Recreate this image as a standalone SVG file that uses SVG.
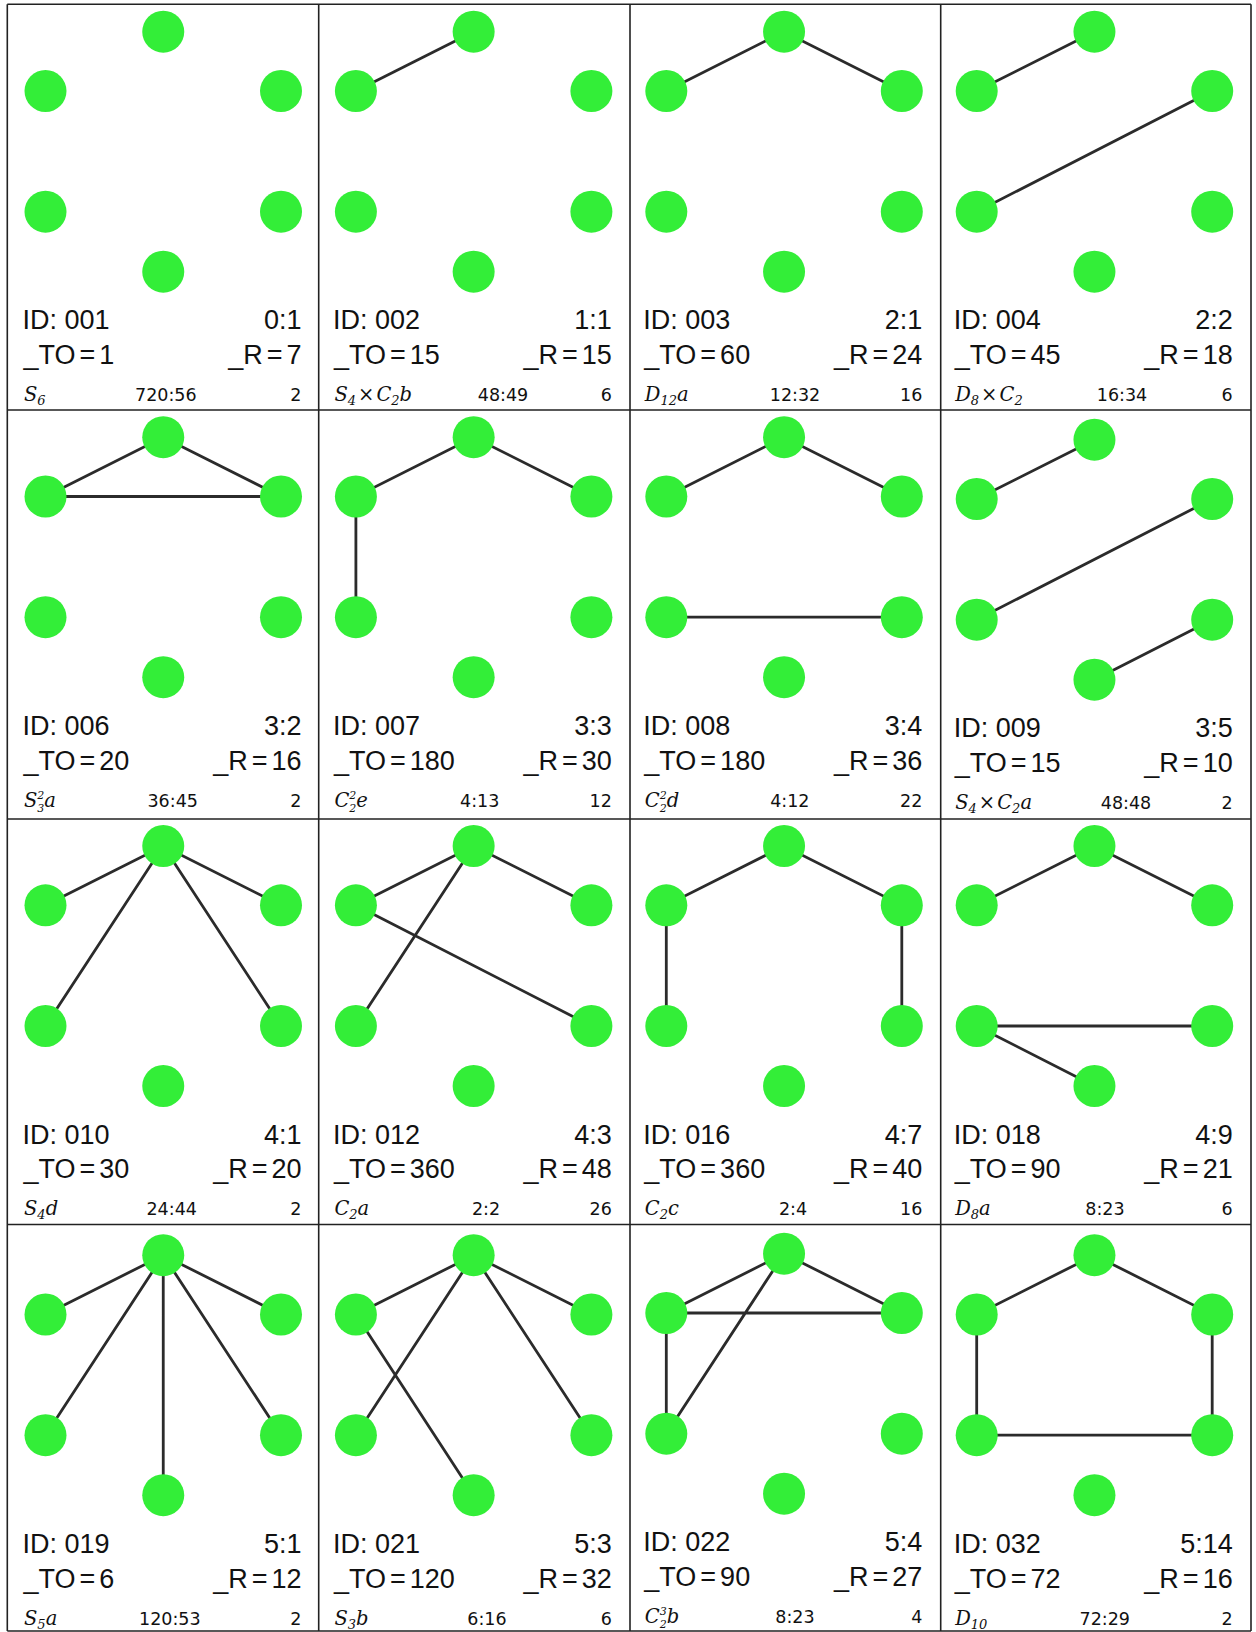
<svg xmlns="http://www.w3.org/2000/svg" xmlns:xlink="http://www.w3.org/1999/xlink" width="1256" height="1632" viewBox="0 0 1256 1632">
<style>
.big{font-family:"Liberation Sans",Arial,sans-serif;font-size:27px;fill:#111}
.end{text-anchor:end}
.num{font-family:"DejaVu Sans",sans-serif;font-size:17.5px;fill:#111}
.mid{text-anchor:middle}
.lab{font-family:"DejaVu Serif",serif;font-style:italic;font-size:19.5px;fill:#111}
.sb{font-size:13px}
.ss{font-size:11px}
.up{font-style:normal}
.e{stroke:#2b2b2b;stroke-width:2.8;fill:none}
.n{fill:#33ee38}
.grid{stroke:#222;stroke-width:1.6;fill:none}
</style>
<defs>
<g id="hex">
<circle class="n" cx="163.25" cy="31.7" r="21"/>
<circle class="n" cx="45.5" cy="91" r="21"/>
<circle class="n" cx="281" cy="91" r="21"/>
<circle class="n" cx="45.5" cy="211.7" r="21"/>
<circle class="n" cx="281" cy="211.7" r="21"/>
<circle class="n" cx="163.25" cy="271.7" r="21"/>
</g>
</defs>
<rect width="1256" height="1632" fill="#fff"/>
<g id="grid" class="grid">
<path d="M7.3 4.3H1251M7.3 410H1251M7.3 819H1251M7.3 1224.5H1251M7.3 1631H1251"/>
<path d="M7.3 4.3V1631M318.7 4.3V1631M630 4.3V1631M940.7 4.3V1631M1251 4.3V1631"/>
</g>
<g id="connectors" class="e">
<g transform="translate(310.4,0)"><path d="M45.5 91L163.25 31.7"/></g>
<g transform="translate(620.8,0)"><path d="M45.5 91L163.25 31.7L281 91"/></g>
<g transform="translate(931.2,0)"><path d="M45.5 91L163.25 31.7M45.5 211.7L281 91"/></g>
<g transform="translate(0,405.5)"><path d="M45.5 91L163.25 31.7L281 91M45.5 91H281"/></g>
<g transform="translate(310.4,405.5)"><path d="M45.5 211.7V91L163.25 31.7L281 91"/></g>
<g transform="translate(620.8,405.5)"><path d="M45.5 91L163.25 31.7L281 91M45.5 211.7H281"/></g>
<g transform="translate(931.2,408)"><path d="M45.5 91L163.25 31.7M45.5 211.7L281 91M163.25 271.7L281 211.7"/></g>
<g transform="translate(0,814.3)"><path d="M45.5 91L163.25 31.7L281 91M45.5 211.7L163.25 31.7L281 211.7"/></g>
<g transform="translate(310.4,814.3)"><path d="M45.5 91L163.25 31.7L281 91M45.5 211.7L163.25 31.7M45.5 91L281 211.7"/></g>
<g transform="translate(620.8,814.3)"><path d="M45.5 211.7V91L163.25 31.7L281 91V211.7"/></g>
<g transform="translate(931.2,814.3)"><path d="M45.5 91L163.25 31.7L281 91M45.5 211.7H281M45.5 211.7L163.25 271.7"/></g>
<g transform="translate(0,1223.5)"><path d="M45.5 91L163.25 31.7L281 91M45.5 211.7L163.25 31.7L281 211.7M163.25 31.7V271.7"/></g>
<g transform="translate(310.4,1223.5)"><path d="M45.5 91L163.25 31.7L281 91M45.5 211.7L163.25 31.7L281 211.7M45.5 91L163.25 271.7"/></g>
<g transform="translate(620.8,1222)"><path d="M45.5 91L163.25 31.7L281 91M45.5 91H281M45.5 91V211.7L163.25 31.7"/></g>
<g transform="translate(931.2,1223.5)"><path d="M45.5 211.7V91L163.25 31.7L281 91V211.7M45.5 211.7H281"/></g>
</g>

<g id="cell-001">
<use xlink:href="#hex" href="#hex"/>
<text class="big" x="22.5" y="329.3">ID: 001</text><text class="big end" x="301.5" y="329.3">0:1</text>
<text class="big" x="23.5" y="364">_TO<tspan dx="4">=</tspan><tspan dx="4">1</tspan></text><text class="big end" x="301.5" y="364">_R<tspan dx="4">=</tspan><tspan dx="4">7</tspan></text>
<text class="lab" x="24" y="401">S<tspan class="sb" dy="4">6</tspan></text>
<text class="num mid" x="165.8" y="401">720:56</text><text class="num end" x="301.5" y="401">2</text>
</g>
<g id="cell-002" transform="translate(310.4,0)">
<use xlink:href="#hex" href="#hex"/>
<text class="big" x="22.5" y="329.3">ID: 002</text><text class="big end" x="301.5" y="329.3">1:1</text>
<text class="big" x="23.5" y="364">_TO<tspan dx="4">=</tspan><tspan dx="4">15</tspan></text><text class="big end" x="301.5" y="364">_R<tspan dx="4">=</tspan><tspan dx="4">15</tspan></text>
<text class="lab" x="24" y="401">S<tspan class="sb" dy="4">4</tspan><tspan class="up" dx="2" dy="-4">×</tspan><tspan dx="2">C</tspan><tspan class="sb" dy="4">2</tspan><tspan dy="-4">b</tspan></text>
<text class="num mid" x="192.6" y="401">48:49</text><text class="num end" x="301.5" y="401">6</text>
</g>
<g id="cell-003" transform="translate(620.8,0)">
<use xlink:href="#hex" href="#hex"/>
<text class="big" x="22.5" y="329.3">ID: 003</text><text class="big end" x="301.5" y="329.3">2:1</text>
<text class="big" x="23.5" y="364">_TO<tspan dx="4">=</tspan><tspan dx="4">60</tspan></text><text class="big end" x="301.5" y="364">_R<tspan dx="4">=</tspan><tspan dx="4">24</tspan></text>
<text class="lab" x="24" y="401">D<tspan class="sb" dy="4">12</tspan><tspan dy="-4">a</tspan></text>
<text class="num mid" x="174.2" y="401">12:32</text><text class="num end" x="301.5" y="401">16</text>
</g>
<g id="cell-004" transform="translate(931.2,0)">
<use xlink:href="#hex" href="#hex"/>
<text class="big" x="22.5" y="329.3">ID: 004</text><text class="big end" x="301.5" y="329.3">2:2</text>
<text class="big" x="23.5" y="364">_TO<tspan dx="4">=</tspan><tspan dx="4">45</tspan></text><text class="big end" x="301.5" y="364">_R<tspan dx="4">=</tspan><tspan dx="4">18</tspan></text>
<text class="lab" x="24" y="401">D<tspan class="sb" dy="4">8</tspan><tspan class="up" dx="2" dy="-4">×</tspan><tspan dx="2">C</tspan><tspan class="sb" dy="4">2</tspan></text>
<text class="num mid" x="190.8" y="401">16:34</text><text class="num end" x="301.5" y="401">6</text>
</g>

<g id="cell-006" transform="translate(0,405.5)">
<use xlink:href="#hex" href="#hex"/>
<text class="big" x="22.5" y="329.3">ID: 006</text><text class="big end" x="301.5" y="329.3">3:2</text>
<text class="big" x="23.5" y="364">_TO<tspan dx="4">=</tspan><tspan dx="4">20</tspan></text><text class="big end" x="301.5" y="364">_R<tspan dx="4">=</tspan><tspan dx="4">16</tspan></text>
<text class="lab" x="24" y="401">S<tspan class="ss" dy="-8">2</tspan><tspan class="ss" dx="-7" dy="13">3</tspan><tspan dy="-5">a</tspan></text>
<text class="num mid" x="172.7" y="401">36:45</text><text class="num end" x="301.5" y="401">2</text>
</g>
<g id="cell-007" transform="translate(310.4,405.5)">
<use xlink:href="#hex" href="#hex"/>
<text class="big" x="22.5" y="329.3">ID: 007</text><text class="big end" x="301.5" y="329.3">3:3</text>
<text class="big" x="23.5" y="364">_TO<tspan dx="4">=</tspan><tspan dx="4">180</tspan></text><text class="big end" x="301.5" y="364">_R<tspan dx="4">=</tspan><tspan dx="4">30</tspan></text>
<text class="lab" x="24" y="401">C<tspan class="ss" dy="-8">2</tspan><tspan class="ss" dx="-7" dy="13">2</tspan><tspan dy="-5">e</tspan></text>
<text class="num mid" x="169.3" y="401">4:13</text><text class="num end" x="301.5" y="401">12</text>
</g>
<g id="cell-008" transform="translate(620.8,405.5)">
<use xlink:href="#hex" href="#hex"/>
<text class="big" x="22.5" y="329.3">ID: 008</text><text class="big end" x="301.5" y="329.3">3:4</text>
<text class="big" x="23.5" y="364">_TO<tspan dx="4">=</tspan><tspan dx="4">180</tspan></text><text class="big end" x="301.5" y="364">_R<tspan dx="4">=</tspan><tspan dx="4">36</tspan></text>
<text class="lab" x="24" y="401">C<tspan class="ss" dy="-8">2</tspan><tspan class="ss" dx="-7" dy="13">2</tspan><tspan dy="-5">d</tspan></text>
<text class="num mid" x="169" y="401">4:12</text><text class="num end" x="301.5" y="401">22</text>
</g>
<g id="cell-009" transform="translate(931.2,408)">
<use xlink:href="#hex" href="#hex"/>
<text class="big" x="22.5" y="329.3">ID: 009</text><text class="big end" x="301.5" y="329.3">3:5</text>
<text class="big" x="23.5" y="364">_TO<tspan dx="4">=</tspan><tspan dx="4">15</tspan></text><text class="big end" x="301.5" y="364">_R<tspan dx="4">=</tspan><tspan dx="4">10</tspan></text>
<text class="lab" x="24" y="401">S<tspan class="sb" dy="4">4</tspan><tspan class="up" dx="2" dy="-4">×</tspan><tspan dx="2">C</tspan><tspan class="sb" dy="4">2</tspan><tspan dy="-4">a</tspan></text>
<text class="num mid" x="194.8" y="401">48:48</text><text class="num end" x="301.5" y="401">2</text>
</g>

<g id="cell-010" transform="translate(0,814.3)">
<use xlink:href="#hex" href="#hex"/>
<text class="big" x="22.5" y="329.3">ID: 010</text><text class="big end" x="301.5" y="329.3">4:1</text>
<text class="big" x="23.5" y="364">_TO<tspan dx="4">=</tspan><tspan dx="4">30</tspan></text><text class="big end" x="301.5" y="364">_R<tspan dx="4">=</tspan><tspan dx="4">20</tspan></text>
<text class="lab" x="24" y="401">S<tspan class="sb" dy="4">4</tspan><tspan dy="-4">d</tspan></text>
<text class="num mid" x="171.7" y="401">24:44</text><text class="num end" x="301.5" y="401">2</text>
</g>
<g id="cell-012" transform="translate(310.4,814.3)">
<use xlink:href="#hex" href="#hex"/>
<text class="big" x="22.5" y="329.3">ID: 012</text><text class="big end" x="301.5" y="329.3">4:3</text>
<text class="big" x="23.5" y="364">_TO<tspan dx="4">=</tspan><tspan dx="4">360</tspan></text><text class="big end" x="301.5" y="364">_R<tspan dx="4">=</tspan><tspan dx="4">48</tspan></text>
<text class="lab" x="24" y="401">C<tspan class="sb" dy="4">2</tspan><tspan dy="-4">a</tspan></text>
<text class="num mid" x="175.6" y="401">2:2</text><text class="num end" x="301.5" y="401">26</text>
</g>
<g id="cell-016" transform="translate(620.8,814.3)">
<use xlink:href="#hex" href="#hex"/>
<text class="big" x="22.5" y="329.3">ID: 016</text><text class="big end" x="301.5" y="329.3">4:7</text>
<text class="big" x="23.5" y="364">_TO<tspan dx="4">=</tspan><tspan dx="4">360</tspan></text><text class="big end" x="301.5" y="364">_R<tspan dx="4">=</tspan><tspan dx="4">40</tspan></text>
<text class="lab" x="24" y="401">C<tspan class="sb" dy="4">2</tspan><tspan dy="-4">c</tspan></text>
<text class="num mid" x="172.2" y="401">2:4</text><text class="num end" x="301.5" y="401">16</text>
</g>
<g id="cell-018" transform="translate(931.2,814.3)">
<use xlink:href="#hex" href="#hex"/>
<text class="big" x="22.5" y="329.3">ID: 018</text><text class="big end" x="301.5" y="329.3">4:9</text>
<text class="big" x="23.5" y="364">_TO<tspan dx="4">=</tspan><tspan dx="4">90</tspan></text><text class="big end" x="301.5" y="364">_R<tspan dx="4">=</tspan><tspan dx="4">21</tspan></text>
<text class="lab" x="24" y="401">D<tspan class="sb" dy="4">8</tspan><tspan dy="-4">a</tspan></text>
<text class="num mid" x="173.8" y="401">8:23</text><text class="num end" x="301.5" y="401">6</text>
</g>

<g id="cell-019" transform="translate(0,1223.5)">
<use xlink:href="#hex" href="#hex"/>
<text class="big" x="22.5" y="329.3">ID: 019</text><text class="big end" x="301.5" y="329.3">5:1</text>
<text class="big" x="23.5" y="364">_TO<tspan dx="4">=</tspan><tspan dx="4">6</tspan></text><text class="big end" x="301.5" y="364">_R<tspan dx="4">=</tspan><tspan dx="4">12</tspan></text>
<text class="lab" x="24" y="401">S<tspan class="sb" dy="4">5</tspan><tspan dy="-4">a</tspan></text>
<text class="num mid" x="169.8" y="401">120:53</text><text class="num end" x="301.5" y="401">2</text>
</g>
<g id="cell-021" transform="translate(310.4,1223.5)">
<use xlink:href="#hex" href="#hex"/>
<text class="big" x="22.5" y="329.3">ID: 021</text><text class="big end" x="301.5" y="329.3">5:3</text>
<text class="big" x="23.5" y="364">_TO<tspan dx="4">=</tspan><tspan dx="4">120</tspan></text><text class="big end" x="301.5" y="364">_R<tspan dx="4">=</tspan><tspan dx="4">32</tspan></text>
<text class="lab" x="24" y="401">S<tspan class="sb" dy="4">3</tspan><tspan dy="-4">b</tspan></text>
<text class="num mid" x="176.5" y="401">6:16</text><text class="num end" x="301.5" y="401">6</text>
</g>
<g id="cell-022" transform="translate(620.8,1222)">
<use xlink:href="#hex" href="#hex"/>
<text class="big" x="22.5" y="329.3">ID: 022</text><text class="big end" x="301.5" y="329.3">5:4</text>
<text class="big" x="23.5" y="364">_TO<tspan dx="4">=</tspan><tspan dx="4">90</tspan></text><text class="big end" x="301.5" y="364">_R<tspan dx="4">=</tspan><tspan dx="4">27</tspan></text>
<text class="lab" x="24" y="401">C<tspan class="ss" dy="-8">3</tspan><tspan class="ss" dx="-7" dy="13">2</tspan><tspan dy="-5">b</tspan></text>
<text class="num mid" x="174.2" y="401">8:23</text><text class="num end" x="301.5" y="401">4</text>
</g>
<g id="cell-032" transform="translate(931.2,1223.5)">
<use xlink:href="#hex" href="#hex"/>
<text class="big" x="22.5" y="329.3">ID: 032</text><text class="big end" x="301.5" y="329.3">5:14</text>
<text class="big" x="23.5" y="364">_TO<tspan dx="4">=</tspan><tspan dx="4">72</tspan></text><text class="big end" x="301.5" y="364">_R<tspan dx="4">=</tspan><tspan dx="4">16</tspan></text>
<text class="lab" x="24" y="401">D<tspan class="sb" dy="4">10</tspan></text>
<text class="num mid" x="173.6" y="401">72:29</text><text class="num end" x="301.5" y="401">2</text>
</g>
</svg>
